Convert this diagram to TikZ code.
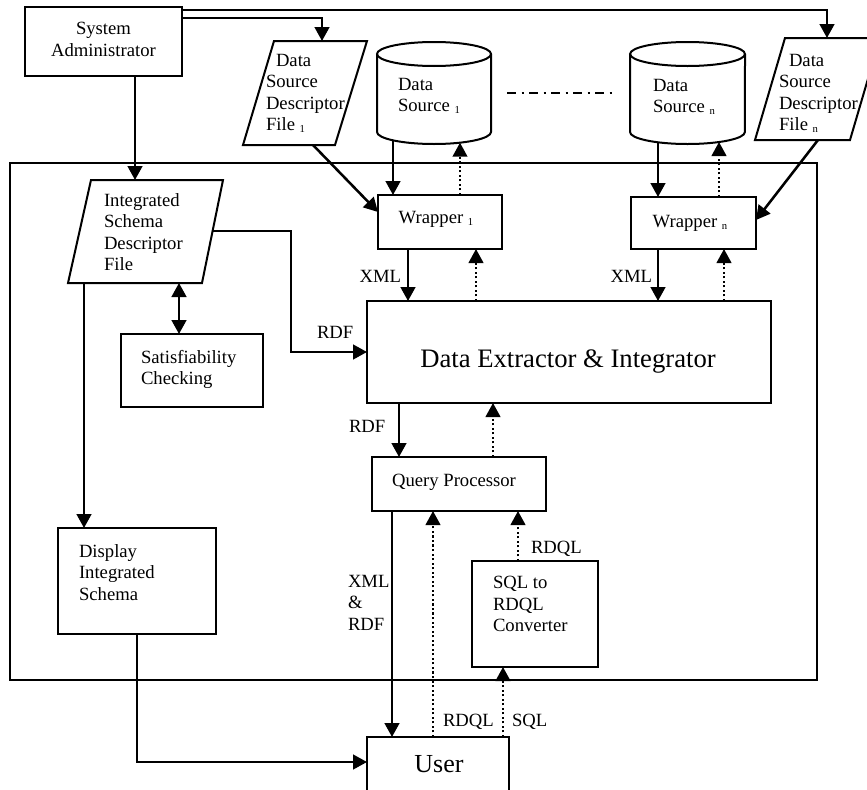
\documentclass[tikz,border=0pt]{standalone}
\usepackage{fontspec}
\setmainfont{Liberation Serif}
\usetikzlibrary{arrows.meta}
\newcommand\subs[1]{\raisebox{-1.5pt}{\fontsize{8}{8}\selectfont #1}}
\begin{document}
\begin{tikzpicture}[x=0.75pt,y=-0.75pt,
  pbox/.style 2 args={draw, line width=1.5pt, minimum width=#1*0.75pt, minimum height=#2*0.75pt, inner sep=0pt, outer sep=0pt},
  pgram/.style={draw, line width=1.5pt, line join=miter},
  tipend/.style={-{Triangle[length=10.5pt,width=11pt]}},
  arr/.style={line width=1.9pt, tipend},
  darr/.style={line width=1.6pt, dash pattern=on 1.6pt off 1.8pt, tipend},
  txt/.style={font=\fontsize{14}{16}\selectfont, inner sep=0pt, outer sep=0pt, align=left},
]
\useasboundingbox (0,0) rectangle (867,789);
\clip (0,0) rectangle (867,789);

% container
\node[pbox={807}{517}, line width=1.2pt] (sys) at (413.5,421.5) {};

% boxes
\node[pbox={157}{69}] (sa) at (103.5,41.5) {};
\node[pbox={124}{54}] (w1) at (440,222) {};
\node[pbox={125}{52}] (wn) at (693.5,223) {};
\node[pbox={404}{102}] (dei) at (569,352) {};
\node[pbox={174}{54}] (qp) at (459,484) {};
\node[pbox={142}{73}] (sat) at (192,370.5) {};
\node[pbox={158}{106}] (dis) at (137,581) {};
\node[pbox={126}{106}] (conv) at (535,614) {};
\node[pbox={142}{73}] (user) at (438,773.5) {};

% parallelograms
\draw[pgram] (274,41) -- (367,41) -- (335,145) -- (243,145) -- cycle;
\draw[pgram] (91,180) -- (223,180) -- (202,283) -- (68,283) -- cycle;
\draw[pgram] (785,38) -- (880,38) -- (850,140) -- (755,140) -- cycle;
\coordinate (dsdf1T) at (322,41);
\coordinate (dsdf1B) at (313,145);
\coordinate (dsdfnT) at (827,38);
\coordinate (dsdfnB) at (818,140);
\coordinate (isdfT) at (135,180);
\coordinate (isdfR) at (212.6,231);
\coordinate (isdfS) at (179,283);
\coordinate (isdfD) at (84,283);

% cylinders
\draw[pgram] (377,54) -- (377,132) arc[start angle=180,end angle=360,x radius=42.75pt,y radius=9pt] -- (491,54);
\draw[pgram] (434,54) ellipse [x radius=42.75pt, y radius=9pt];
\draw[pgram] (630,54) -- (630,132) arc[start angle=180,end angle=360,x radius=43.1pt,y radius=9pt] -- (745,54);
\draw[pgram] (687.5,54) ellipse [x radius=43.1pt, y radius=9pt];
\coordinate (ds1a) at (393,140);
\coordinate (ds1b) at (460,142.7);
\coordinate (dsna) at (658,142);
\coordinate (dsnb) at (719,142);
\draw[line width=1.4pt, dash pattern=on 7pt off 4pt on 1.5pt off 4pt] (507,93) -- (612,93);

% texts
\node[txt, align=center, anchor=north] (tsa) at (103.5,22.5) {System\\Administrator};
\node[txt, anchor=north west] (tdsdf1) at (266,54.4) {\hspace*{7.5pt}Data\\Source\\Descriptor\\File \subs{1}};
\node[txt, anchor=north west] (tds1) at (398,78.4) {Data\\Source \subs{1}};
\node[txt, anchor=north west] (tdsn) at (653,79.4) {Data\\Source \subs{n}};
\node[txt, anchor=north west] (tdsdfn) at (779,54.4) {\hspace*{7.5pt}Data\\Source\\Descriptor\\File \subs{n}};
\node[txt, anchor=north west] (tisdf) at (104,193.4) {Integrated\\Schema\\Descriptor\\File};
\node[txt, anchor=base] (tw1) at (436,223) {Wrapper \subs{1}};
\node[txt, anchor=base] (twn) at (690,227) {Wrapper \subs{n}};
\node[font=\fontsize{20}{24}\selectfont, inner sep=0pt, anchor=base] (tdei) at (568,367) {Data Extractor \& Integrator};
\node[txt, anchor=north west] (tsat) at (141,350.4) {Satisfiability\\Checking};
\node[txt, anchor=base] (tqp) at (454,486) {Query Processor};
\node[txt, anchor=north west] (tdis) at (79,544.4) {Display\\Integrated\\Schema};
\node[txt, anchor=north west] (tconv) at (493,576.4) {SQL to\\RDQL\\Converter};
\node[font=\fontsize{19.5}{22}\selectfont, inner sep=0pt, anchor=base] (tuser) at (439,772) {User};

% labels
\node[txt, anchor=base east] (lx1) at (401,282) {XML};
\node[txt, anchor=base east] (lxn) at (652,282) {XML};
\node[txt, anchor=base west] (lr1) at (317,338) {RDF};
\node[txt, anchor=base west] (lr2) at (349,432) {RDF};
\node[txt, anchor=north west] (lxr) at (348,575.4) {XML\\\&\\RDF};
\node[txt, anchor=base west] (lq1) at (531,553) {RDQL};
\node[txt, anchor=base west] (lq2) at (443,726) {RDQL};
\node[txt, anchor=base west] (ls) at (512,726) {SQL};

% connectors
\draw[arr] (135,0 |- sa.south) -- (isdfT);
\draw[arr] (sa.east |- 0,18) -- (322,18) -- (dsdf1T);
\draw[arr] (sa.east |- 0,10) -- (827,10) -- (dsdfnT);
\draw[arr] (dsdf1B) -- (w1.west |- 0,212);
\draw[arr] (dsdfnB) -- (wn.east |- 0,220);
\draw[arr] (ds1a) -- (393,0 |- w1.north);
\draw[darr] (460,0 |- w1.north) -- (ds1b);
\draw[arr] (dsna) -- (658,0 |- wn.north);
\draw[darr] (719,0 |- wn.north) -- (dsnb);
\draw[arr] (408,0 |- w1.south) -- (408,0 |- dei.north);
\draw[darr] (476,0 |- dei.north) -- (476,0 |- w1.south);
\draw[arr] (658,0 |- wn.south) -- (658,0 |- dei.north);
\draw[darr] (724,0 |- dei.north) -- (724,0 |- wn.south);
\draw[arr] (isdfR) -- (291,231) -- (291,352) -- (dei.west |- 0,352);
\draw[line width=1.9pt, {Triangle[length=10.5pt,width=11pt]}-{Triangle[length=10.5pt,width=11pt]}] (isdfS) -- (179,0 |- sat.north);
\draw[arr] (isdfD) -- (84,0 |- dis.north);
\draw[arr] (399,0 |- dei.south) -- (399,0 |- qp.north);
\draw[darr] (493,0 |- qp.north) -- (493,0 |- dei.south);
\draw[arr] (392,0 |- qp.south) -- (392,0 |- user.north);
\draw[darr] (433,0 |- user.north) -- (433,0 |- qp.south);
\draw[darr] (518,0 |- conv.north) -- (518,0 |- qp.south);
\draw[darr] (503,0 |- user.north) -- (503,0 |- conv.south);
\draw[arr] (137,0 |- dis.south) -- (137,762) -- (user.west |- 0,762);
\end{tikzpicture}
\end{document}
